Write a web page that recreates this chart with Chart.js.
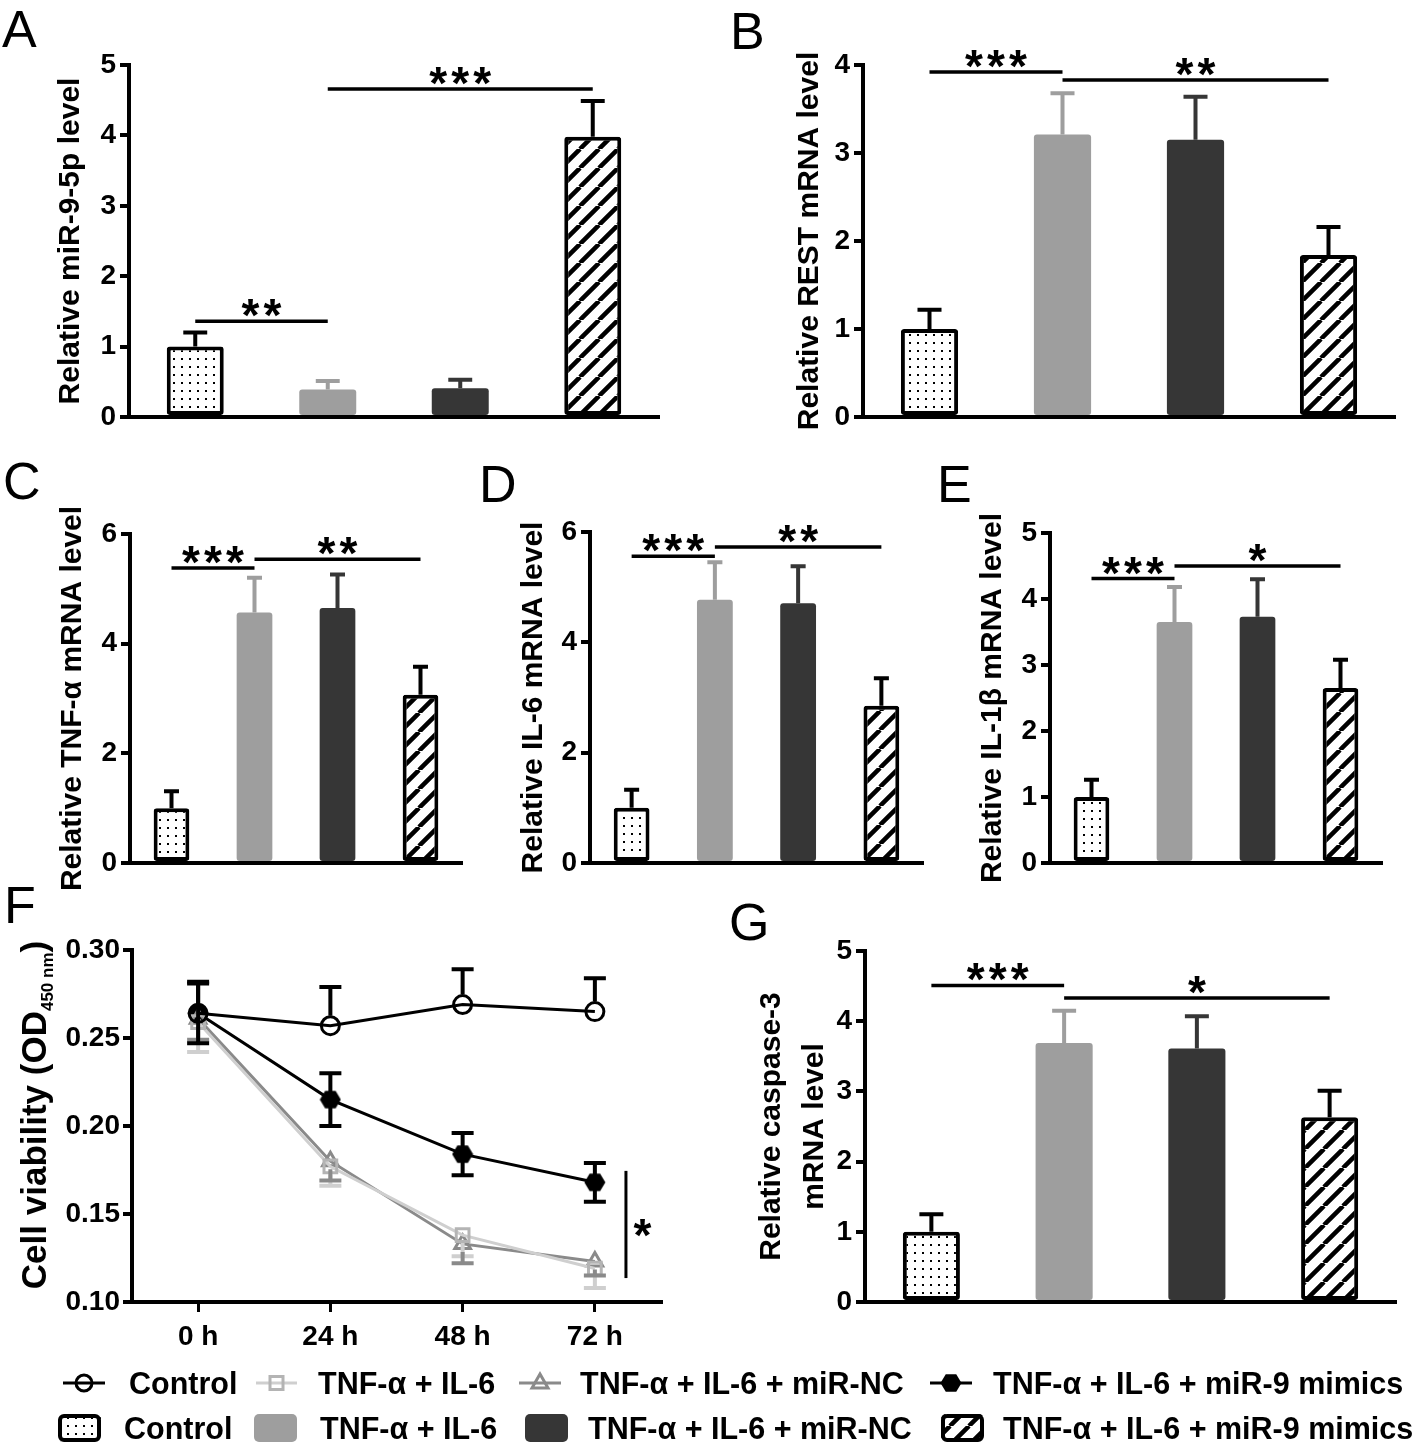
<!DOCTYPE html>
<html>
<head>
<meta charset="utf-8">
<title>miR-9-5p / REST figure</title>
<script src="https://cdn.jsdelivr.net/npm/chart.js@4.4.1/dist/chart.umd.min.js"></script>
<style>
  html, body { margin: 0; padding: 0; background: #fff; }
  body { position: relative; width: 1418px; height: 1444px; overflow: hidden; font-family: "Liberation Sans", Arial, Helvetica, sans-serif; color: #000; }
  .panel { position: absolute; }
  .tag { position: absolute; font-size: 52px; line-height: 1; font-weight: normal; }
  .lg { position: absolute; font-size: 30.5px; line-height: 1; font-weight: bold; white-space: nowrap; }
  #legendMarks { position: absolute; left: 0; top: 1350px; }
</style>
</head>
<body>
<div class="tag" style="left:2px;top:3px">A</div>
<div class="tag" style="left:730px;top:5px">B</div>
<div class="tag" style="left:3px;top:455px">C</div>
<div class="tag" style="left:479px;top:458px">D</div>
<div class="tag" style="left:937px;top:458px">E</div>
<div class="tag" style="left:4px;top:879px">F</div>
<div class="tag" style="left:729px;top:896px">G</div>

<canvas id="legendMarks" width="1418" height="94"></canvas>
<div class="lg" style="left:129px;top:1368px">Control</div>
<div class="lg" style="left:318px;top:1368px">TNF-α + IL-6</div>
<div class="lg" style="left:580px;top:1368px">TNF-α + IL-6 + miR-NC</div>
<div class="lg" style="left:993px;top:1368px">TNF-α + IL-6 + miR-9 mimics</div>
<div class="lg" style="left:124px;top:1413px">Control</div>
<div class="lg" style="left:320px;top:1413px">TNF-α + IL-6</div>
<div class="lg" style="left:588px;top:1413px">TNF-α + IL-6 + miR-NC</div>
<div class="lg" style="left:1003px;top:1413px">TNF-α + IL-6 + miR-9 mimics</div>

<script>
// ---------- data ----------
const groups = ['Control', 'TNF-α + IL-6', 'TNF-α + IL-6 + miR-NC', 'TNF-α + IL-6 + miR-9 mimics'];
const hours = ['0 h', '24 h', '48 h', '72 h'];

// A - miR-9-5p
const mirLevel = [1.00, 0.39, 0.41, 3.98];
const mirErr   = [0.20, 0.12, 0.12, 0.51];
// B - REST
const restLevel = [1.00, 3.21, 3.15, 1.84];
const restErr   = [0.22, 0.47, 0.49, 0.32];
// C - TNF-α
const tnfLevel = [1.00, 4.57, 4.65, 3.07];
const tnfErr   = [0.31, 0.63, 0.61, 0.51];
// D - IL-6
const il6Level = [1.00, 4.77, 4.71, 2.85];
const il6Err   = [0.33, 0.68, 0.67, 0.50];
// E - IL-1β
const il1bLevel = [1.00, 3.65, 3.73, 2.65];
const il1bErr   = [0.26, 0.53, 0.57, 0.43];
// G - caspase-3
const casLevel = [1.00, 3.69, 3.61, 2.63];
const casErr   = [0.25, 0.46, 0.46, 0.38];

// F - cell viability (OD450)
const ctrlOD = [0.264, 0.257, 0.269, 0.265];
const ctrlSD = [0.018, 0.022, 0.020, 0.019];
const cytoOD = [0.259, 0.177, 0.138, 0.119];
const cytoSD = [0.017, 0.011, 0.012, 0.011];
const ncOD   = [0.261, 0.180, 0.133, 0.123];
const ncSD   = [0.012, 0.011, 0.011, 0.008];
const mimOD  = [0.264, 0.215, 0.184, 0.168];
const mimSD  = [0.017, 0.015, 0.012, 0.011];

// significance: [from group, to group, height, label]
const mirSig  = [[0, 1, 1.36, '**'], [1, 3, 4.66, '***']];
const restSig = [[0, 1, 3.92, '***'], [1, 3, 3.83, '**']];
const tnfSig  = [[0, 1, 5.38, '***'], [1, 3, 5.54, '**']];
const il6Sig  = [[0, 1, 5.56, '***'], [1, 3, 5.73, '**']];
const il1bSig = [[0, 1, 4.31, '***'], [1, 3, 4.50, '*']];
const casSig  = [[0, 1, 4.51, '***'], [1, 3, 4.33, '*']];
// F: vertical bar right of 72 h: [x position (category index), low, high, label]
const odSig = [3.235, 0.1136, 0.1745, '*'];

// ---------- styling ----------
const FONT = '"Liberation Sans", Arial, Helvetica, sans-serif';
const LIGHT = '#9e9e9e', DARK = '#363636';
const LINE_LIGHT = '#cfcfcf', LINE_MID = '#8a8a8a';
Chart.defaults.font.family = FONT;
Chart.defaults.color = '#000';

function dotFill(ctx) {
  const t = document.createElement('canvas');
  t.width = 8; t.height = 8;
  const g = t.getContext('2d');
  g.fillStyle = '#fff'; g.fillRect(0, 0, 8, 8);
  g.fillStyle = '#000'; g.fillRect(3, 3, 2, 2);
  return ctx.createPattern(t, 'repeat');
}

function hatchFill(ctx) {
  const s = 19;
  const t = document.createElement('canvas');
  t.width = s; t.height = s;
  const g = t.getContext('2d');
  g.fillStyle = '#fff'; g.fillRect(0, 0, s, s);
  g.strokeStyle = '#000'; g.lineWidth = 4.5;
  g.beginPath();
  [-s, 0, s].forEach(o => { g.moveTo(o, s); g.lineTo(o + s, 0); });
  g.stroke();
  return ctx.createPattern(t, 'repeat');
}

// filled hexagon used as the miR-9 mimics marker
const hexMark = (() => {
  const c = document.createElement('canvas');
  c.width = 22; c.height = 22;
  const g = c.getContext('2d');
  g.fillStyle = '#000';
  g.beginPath();
  for (let k = 0; k < 6; k++) {
    const a = Math.PI / 3 * k;
    g.lineTo(11 + 10.5 * Math.cos(a), 11 + 10 * Math.sin(a));
  }
  g.closePath(); g.fill();
  return c;
})();

// ---------- plugins ----------
const errorBars = {
  id: 'errorBars',
  afterDatasetsDraw(chart) {
    const ctx = chart.ctx, y = chart.scales.y;
    chart.data.datasets.forEach((ds, di) => {
      if (!ds.errUp && !ds.errDown) return;
      chart.getDatasetMeta(di).data.forEach((el, i) => {
        const v = ds.data[i];
        const up = ds.errUp ? ds.errUp[i] : 0;
        const dn = ds.errDown ? ds.errDown[i] : 0;
        const cap = ds.capWidth || el.width * 0.42;
        const gap = ds.errGap || 0;
        const x = el.x, y0 = y.getPixelForValue(v);
        ctx.save();
        ctx.strokeStyle = Array.isArray(ds.errColor) ? ds.errColor[i] : ds.errColor;
        ctx.lineWidth = ds.errWidth || 4;
        ctx.beginPath();
        if (up) {
          const yt = y.getPixelForValue(v + up);
          ctx.moveTo(x, y0 - gap); ctx.lineTo(x, yt);
          ctx.moveTo(x - cap / 2, yt); ctx.lineTo(x + cap / 2, yt);
        }
        if (dn) {
          const yb = y.getPixelForValue(v - dn);
          ctx.moveTo(x, y0 + gap); ctx.lineTo(x, yb);
          ctx.moveTo(x - cap / 2, yb); ctx.lineTo(x + cap / 2, yb);
        }
        ctx.stroke();
        ctx.restore();
      });
    });
  }
};

function drawStars(ctx, mark, cx, base) {
  const step = 22;
  for (let k = 0; k < mark.length; k++) {
    ctx.fillText('*', cx + (k - (mark.length - 1) / 2) * step, base);
  }
}

const sigBars = {
  id: 'sigBars',
  afterDatasetsDraw(chart) {
    const ds = chart.data.datasets[0];
    if (!ds.sig) return;
    const {ctx, scales: {x, y}} = chart;
    ctx.save();
    ctx.strokeStyle = '#000'; ctx.fillStyle = '#000'; ctx.lineWidth = 3.5;
    ctx.font = 'bold 46px ' + FONT; ctx.textAlign = 'center'; ctx.textBaseline = 'alphabetic';
    ds.sig.forEach(([a, b, v, mark]) => {
      const x1 = x.getPixelForValue(a), x2 = x.getPixelForValue(b), py = y.getPixelForValue(v);
      ctx.beginPath(); ctx.moveTo(x1, py); ctx.lineTo(x2, py); ctx.stroke();
      drawStars(ctx, mark, (x1 + x2) / 2, py + 10);
    });
    ctx.restore();
  }
};

// rotated y-axis title (drawn by hand so long titles are not squeezed)
function yTitle(lines, x, lineHeight) {
  return {
    id: 'yTitle',
    afterDraw(chart) {
      const {ctx, chartArea} = chart;
      ctx.save();
      ctx.translate(x, (chartArea.top + chartArea.bottom) / 2);
      ctx.rotate(-Math.PI / 2);
      ctx.font = 'bold 30px ' + FONT;
      ctx.fillStyle = '#000'; ctx.textAlign = 'center'; ctx.textBaseline = 'middle';
      [].concat(lines).forEach((t, k) => ctx.fillText(t, 0, k * lineHeight));
      ctx.restore();
    }
  };
}

// ---------- layout of panels (page pixels) ----------
const boxA = { area: [129, 65, 659, 417], left: 10, titleX: 71 };
const boxB = { area: [863, 65, 1395, 417], left: 770, titleX: 810 };
const boxC = { area: [130, 534, 462, 863], left: 20, titleX: 73 };
const boxD = { area: [590, 532, 923, 863], left: 500, titleX: 534 };
const boxE = { area: [1050, 533, 1382, 863], left: 960, titleX: 993 };
const boxG = { area: [865, 951, 1396, 1302], left: 735, titleX: 772, titleLine: 43 };
const boxF = { area: [132, 950, 661, 1302], left: 0 };
const X_BAND = 40;

function panelCanvas(L, T, W, H) {
  const div = document.createElement('div');
  div.className = 'panel';
  Object.assign(div.style, { left: L + 'px', top: T + 'px', width: W + 'px', height: H + 'px' });
  const cv = document.createElement('canvas');
  cv.width = W; cv.height = H;
  cv.style.width = W + 'px'; cv.style.height = H + 'px';
  div.appendChild(cv);
  document.body.appendChild(div);
  return cv;
}

function barPanel(box, title, yMax, step, values, errors, sig) {
  const [l, t, r, b] = box.area;
  const L = box.left, T = t - 30, W = r + 12 - L, H = b + X_BAND - T;
  const cv = panelCanvas(L, T, W, H);
  const ctx = cv.getContext('2d');
  return new Chart(cv, {
    type: 'bar',
    data: {
      labels: groups,
      datasets: [{
        data: values,
        errUp: errors,
        errColor: ['#000', LIGHT, DARK, '#000'],
        sig: sig,
        backgroundColor: [dotFill(ctx), LIGHT, DARK, hatchFill(ctx)],
        borderColor: '#000',
        borderWidth: [4, 0, 0, 4],
        borderSkipped: false,
        borderRadius: 3,
        barPercentage: 0.43,
        categoryPercentage: 1
      }]
    },
    options: {
      responsive: false, animation: false, events: [],
      layout: { padding: { top: 30, right: 12, bottom: 0, left: 0 } },
      plugins: { legend: { display: false }, tooltip: { enabled: false } },
      scales: {
        x: {
          z: 1,
          grid: { display: false },
          ticks: { display: false },
          border: { color: '#000', width: 4 },
          afterFit: s => { s.height = X_BAND; }
        },
        y: {
          z: 1, min: 0, max: yMax,
          ticks: { stepSize: step, color: '#000', padding: 4, font: { size: 28, weight: 'bold' } },
          grid: { drawOnChartArea: false, color: '#000', lineWidth: 4, tickLength: 9 },
          border: { color: '#000', width: 4 },
          afterFit: s => { s.width = l - L; }
        }
      }
    },
    plugins: [errorBars, sigBars, yTitle(title, box.titleX - L, box.titleLine || 36)]
  });
}

barPanel(boxA, 'Relative miR-9-5p level', 5, 1, mirLevel, mirErr, mirSig);
barPanel(boxB, 'Relative REST mRNA level', 4, 1, restLevel, restErr, restSig);
barPanel(boxC, 'Relative TNF-α mRNA level', 6, 2, tnfLevel, tnfErr, tnfSig);
barPanel(boxD, 'Relative IL-6 mRNA level', 6, 2, il6Level, il6Err, il6Sig);
barPanel(boxE, 'Relative IL-1β mRNA level', 5, 1, il1bLevel, il1bErr, il1bSig);
barPanel(boxG, ['Relative caspase-3', 'mRNA level'], 5, 1, casLevel, casErr, casSig);

// ---------- F: line chart ----------
(function () {
  const [l, t, r, b] = boxF.area;
  const L = boxF.left, T = t - 30, W = r + 12 - L, H = b + 62 - T;
  const cv = panelCanvas(L, T, W, H);

  const series = (label, data, color, extra) => Object.assign({
    label, data,
    borderColor: color, borderWidth: 3, tension: 0,
    pointRadius: 9, pointBorderWidth: 3, pointBorderColor: color,
    pointBackgroundColor: 'rgba(255,255,255,0)',
    capWidth: 22, errColor: color, errWidth: 4
  }, extra);

  const odExtras = {
    id: 'odExtras',
    afterDraw(chart) {
      const {ctx, chartArea, scales: {x, y}} = chart;
      const [at, lo, hi, mark] = odSig;
      const px = x.getPixelForValue(at);
      ctx.save();
      ctx.strokeStyle = '#000'; ctx.lineWidth = 3;
      ctx.beginPath(); ctx.moveTo(px, y.getPixelForValue(lo)); ctx.lineTo(px, y.getPixelForValue(hi)); ctx.stroke();
      ctx.fillStyle = '#000'; ctx.font = 'bold 46px ' + FONT; ctx.textAlign = 'center'; ctx.textBaseline = 'alphabetic';
      ctx.fillText(mark, x.getPixelForValue(at + 0.125), y.getPixelForValue((lo + hi) / 2) + 27);
      ctx.restore();

      // axis title with subscript
      ctx.save();
      ctx.translate(46 - L, (chartArea.top + chartArea.bottom) / 2 - 11);
      ctx.rotate(-Math.PI / 2);
      ctx.fillStyle = '#000'; ctx.textAlign = 'left'; ctx.textBaseline = 'alphabetic';
      const big = 'bold 35px ' + FONT, small = 'bold 17px ' + FONT;
      const parts = [['Cell viability (OD', big, 0], ['450 nm', small, 7], [')', big, 0]];
      let w = 0;
      parts.forEach(p => { ctx.font = p[1]; w += ctx.measureText(p[0]).width; });
      let cx = -w / 2;
      parts.forEach(p => { ctx.font = p[1]; ctx.fillText(p[0], cx, p[2]); cx += ctx.measureText(p[0]).width; });
      ctx.restore();
    }
  };

  new Chart(cv, {
    type: 'line',
    data: {
      labels: hours,
      datasets: [
        series(groups[0], ctrlOD, '#000', { errUp: ctrlSD, errGap: 10, pointStyle: 'circle' }),
        series(groups[1], cytoOD, LINE_LIGHT, { errDown: cytoSD, errGap: 8, pointStyle: 'rect', pointBorderColor: '#b4b4b4' }),
        series(groups[2], ncOD, LINE_MID, { errDown: ncSD, errGap: 8, pointStyle: 'triangle' }),
        series(groups[3], mimOD, '#000', { errUp: mimSD, errDown: mimSD, pointStyle: hexMark })
      ]
    },
    options: {
      responsive: false, animation: false, events: [],
      layout: { padding: { top: 30, right: 12, bottom: 0, left: 0 } },
      plugins: { legend: { display: false }, tooltip: { enabled: false } },
      scales: {
        x: {
          z: 1, offset: true,
          ticks: { color: '#000', padding: 8, maxRotation: 0, font: { size: 28, weight: 'bold' } },
          grid: { drawOnChartArea: false, color: '#000', lineWidth: 3, tickLength: 10 },
          border: { color: '#000', width: 4 },
          afterFit: s => { s.height = 62; }
        },
        y: {
          z: 1, min: 0.10, max: 0.30,
          ticks: { stepSize: 0.05, color: '#000', padding: 3, font: { size: 28, weight: 'bold' },
                   callback: v => v.toFixed(2) },
          grid: { drawOnChartArea: false, color: '#000', lineWidth: 4, tickLength: 9 },
          border: { color: '#000', width: 4 },
          afterFit: s => { s.width = l - L; }
        }
      }
    },
    plugins: [errorBars, odExtras]
  });
})();

// ---------- legend marks ----------
(function () {
  const cv = document.getElementById('legendMarks');
  const g = cv.getContext('2d');
  const y1 = 33;
  const seg = (x0, x1, col) => {
    g.strokeStyle = col; g.lineWidth = 3;
    g.beginPath(); g.moveTo(x0, y1); g.lineTo(x1, y1); g.stroke();
  };
  // line series
  seg(63, 105, '#000');
  g.strokeStyle = '#000'; g.lineWidth = 3;
  g.beginPath(); g.arc(84, y1, 8, 0, Math.PI * 2); g.stroke();

  seg(256, 297, LINE_LIGHT);
  g.strokeStyle = '#b4b4b4'; g.strokeRect(270, y1 - 6.5, 13, 13);

  seg(519, 561, LINE_MID);
  g.strokeStyle = LINE_MID;
  g.beginPath(); g.moveTo(540, y1 - 9); g.lineTo(548, y1 + 5); g.lineTo(532, y1 + 5); g.closePath(); g.stroke();

  seg(930, 972, '#000');
  g.drawImage(hexMark, 951 - 11, y1 - 11);

  // bar series boxes
  const box = (x, fill, border) => {
    g.beginPath(); g.roundRect(x, 64, 43, 28, 5);
    g.fillStyle = fill; g.fill();
    if (border) { g.strokeStyle = '#000'; g.lineWidth = 4; g.beginPath(); g.roundRect(x + 2, 66, 39, 24, 4); g.stroke(); }
  };
  box(58, dotFill(g), true);
  box(254, LIGHT, false);
  box(525, DARK, false);
  box(941, hatchFill(g), true);
})();
</script>
</body>
</html>
